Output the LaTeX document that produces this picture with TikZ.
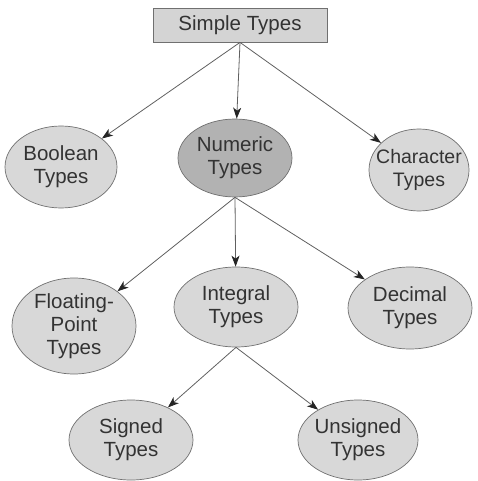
\documentclass[tikz,border=0pt]{standalone}
\usepackage{fontspec}
\setmainfont{Liberation Sans}
\usetikzlibrary{shapes.geometric,arrows.meta}
\definecolor{boxfill}{HTML}{D4D4D4}
\definecolor{ovalfill}{HTML}{D8D8D8}
\definecolor{darkfill}{HTML}{B2B2B2}
\definecolor{edgegray}{HTML}{707070}
\definecolor{linegray}{HTML}{606060}
\definecolor{tipgray}{HTML}{252525}
\tikzset{
  typebox/.style={draw=edgegray, fill=boxfill, line width=0.8pt, minimum width=174pt, minimum height=34pt, inner sep=0pt, font=\fontsize{20.5}{23}\selectfont, text=black!80},
  % negative inner sep lets the given minimum sizes fix each oval
  typeoval/.style={ellipse, draw=edgegray, fill=ovalfill, line width=0.7pt, inner sep=-20pt, align=center, font=\fontsize{20.5}{23}\selectfont, text=black!80},
  link/.style={draw=linegray, line width=0.8pt, -{Stealth[length=11pt, width=8pt, inset=3pt, color=tipgray]}}
}
\begin{document}
\begin{tikzpicture}[x=1pt, y=-1pt]
  \useasboundingbox (0,0) rectangle (477,481);
  % root
  \node[typebox] (simple) at (240,25) {Simple Types};
  % first level
  \node[typeoval, minimum width=112pt, minimum height=82pt] (bool) at (61,167) {Boolean\\Types};
  \node[typeoval, fill=darkfill, minimum width=114pt, minimum height=78pt] (num) at (235,158) {Numeric\\Types};
  \node[typeoval, minimum width=100pt, minimum height=82pt, font=\fontsize{19.5}{23}\selectfont] (char) at (419,170) {Character\\Types};
  % second level
  \node[typeoval, minimum width=124pt, minimum height=96pt] (float) at (74,326) {Floating-\\Point\\Types};
  \node[typeoval, minimum width=124pt, minimum height=80pt] (integ) at (236,307) {Integral\\Types};
  \node[typeoval, minimum width=124pt, minimum height=82pt] (dec) at (410,308) {Decimal\\Types};
  % third level
  \node[typeoval, minimum width=124pt, minimum height=80pt] (signed) at (131,440) {Signed\\Types};
  \node[typeoval, minimum width=120pt, minimum height=80pt] (unsigned) at (358,440) {Unsigned\\Types};
  % connectors
  \draw[link] (simple.south) -- (bool);
  \draw[link] (simple.south) -- (num);
  \draw[link] (simple.south) -- (char);
  \draw[link] (num.south) -- (float);
  \draw[link] (num.south) -- (integ);
  \draw[link] (num.south) -- (dec);
  \draw[link] (integ.south) -- (signed);
  \draw[link] (integ.south) -- (unsigned);
\end{tikzpicture}
\end{document}
